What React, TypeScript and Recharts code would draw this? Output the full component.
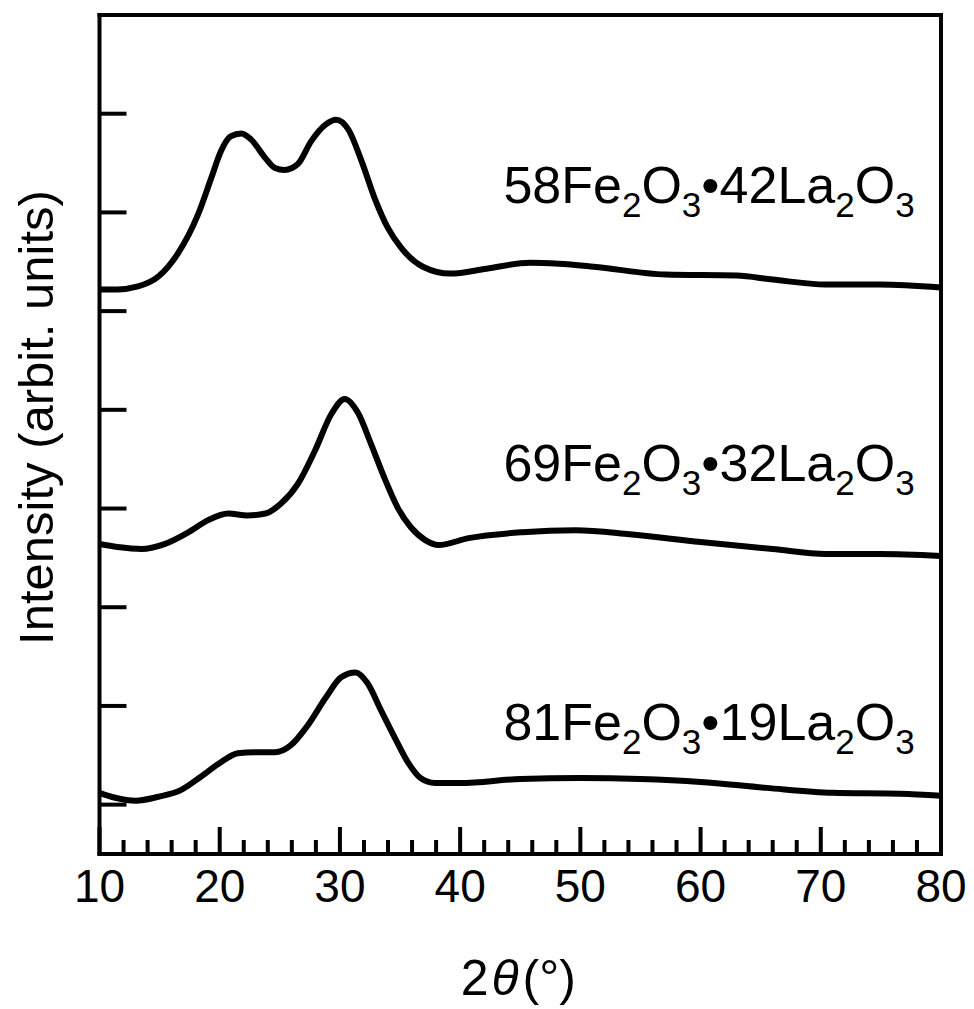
import React from 'react'
import {
  LineChart,
  Line,
  XAxis,
  YAxis,
  ReferenceDot,
} from 'recharts'

// x-ray diffraction patterns, offset vertically (arbitrary units)
const x58 = [10, 11.5, 13.2, 14.9, 16.5, 18.2, 19.3, 20.1, 20.9, 21.8, 22.6, 23.8, 24.6, 25.4, 26.5, 27.6, 28.8, 29.7, 30.7, 31.8, 32.9, 34.0, 35.1, 36.9, 39.2, 42.2, 45.8, 48.2, 51.1, 57.1, 63.0, 66.0, 70.4, 74.9, 80]
const y58 = [5.22, 5.22, 5.25, 5.35, 5.58, 5.98, 6.35, 6.62, 6.77, 6.80, 6.74, 6.55, 6.45, 6.43, 6.49, 6.72, 6.89, 6.94, 6.84, 6.52, 6.14, 5.84, 5.64, 5.45, 5.38, 5.43, 5.49, 5.48, 5.45, 5.37, 5.36, 5.32, 5.27, 5.27, 5.24]

const x69 = [10, 11.5, 13.5, 15.4, 17.4, 19.0, 20.7, 22.3, 23.8, 25.1, 26.5, 27.9, 29.3, 30.4, 31.5, 32.6, 33.7, 34.8, 35.9, 37.1, 38.2, 40.7, 45.2, 49.6, 54.1, 60.0, 66.0, 70.4, 74.9, 80]
const y69 = [2.64, 2.61, 2.59, 2.64, 2.76, 2.88, 2.95, 2.93, 2.95, 3.05, 3.25, 3.58, 3.96, 4.11, 3.97, 3.65, 3.31, 3.01, 2.81, 2.68, 2.63, 2.70, 2.76, 2.78, 2.74, 2.66, 2.59, 2.54, 2.54, 2.52]

const x81 = [10, 11.3, 13.0, 14.9, 16.8, 18.4, 20.1, 21.5, 22.9, 24.6, 25.9, 27.3, 28.8, 30.1, 31.3, 32.3, 33.4, 34.6, 35.7, 36.7, 37.9, 40, 45, 50, 55, 60, 65.5, 71, 76.6, 80]
const y81 = [0.12, 0.07, 0.04, 0.08, 0.15, 0.28, 0.43, 0.52, 0.53, 0.53, 0.60, 0.80, 1.08, 1.29, 1.34, 1.23, 0.96, 0.67, 0.42, 0.27, 0.22, 0.22, 0.26, 0.27, 0.26, 0.23, 0.17, 0.12, 0.11, 0.09]

// sample names, label anchor in data coords
const names = [
  { fe: '58', la: '42', x: 43.6, y: 6.1 },
  { fe: '69', la: '32', x: 43.6, y: 3.28 },
  { fe: '81', la: '19', x: 43.6, y: 0.65 },
]

const xTicks = [10, 12, 14, 16, 18, 20, 22, 24, 26, 28, 30, 32, 34, 36, 38, 40, 42, 44, 46, 48, 50, 52, 54, 56, 58, 60, 62, 64, 66, 68, 70, 72, 74, 76, 78, 80]
const yTicks = [0, 1, 2, 3, 4, 5, 6, 7]

const FONT = '"Liberation Sans", Arial, Helvetica, sans-serif'
const MAJOR = 27
const MINOR = 14

const toPoints = (xs: number[], ys: number[]) => xs.map((x, i) => ({ x, v: ys[i] }))

const BottomTick = ({ x, y, payload }: any) => {
  const major = payload.value % 10 === 0
  return (
    <g>
      <line x1={x} x2={x} y1={y} y2={y - (major ? MAJOR : MINOR)} stroke="#000" strokeWidth={4} />
      {major && (
        <text x={x} y={y + 48} textAnchor="middle" fontSize={46} fontFamily={FONT} fill="#000">
          {payload.value}
        </text>
      )}
    </g>
  )
}

const TopTick = ({ x, y, payload }: any) => {
  const major = payload.value % 10 === 0
  return <line x1={x} x2={x} y1={y} y2={y + (major ? MAJOR : MINOR)} stroke="#000" strokeWidth={4} />
}

const LeftTick = ({ x, y }: any) => (
  <line x1={x} x2={x + MAJOR} y1={y} y2={y} stroke="#000" strokeWidth={4} />
)

const RightTick = ({ x, y }: any) => (
  <line x1={x} x2={x - MAJOR} y1={y} y2={y} stroke="#000" strokeWidth={4} />
)

const XLabel = ({ viewBox }: any) => (
  <text
    x={viewBox.x + viewBox.width / 2 - 2}
    y={viewBox.y + 141}
    textAnchor="middle"
    fontSize={50}
    fontFamily={FONT}
    fill="#000"
  >
    <tspan>2</tspan>
    <tspan fontStyle="italic" dx={3}>θ</tspan>
    <tspan dx={4}>(°)</tspan>
  </text>
)

const YLabel = ({ viewBox }: any) => {
  const cx = viewBox.x + viewBox.width - 47
  const cy = viewBox.y + viewBox.height / 2 - 17
  return (
    <text
      x={cx}
      y={cy}
      transform={`rotate(-90 ${cx} ${cy})`}
      textAnchor="middle"
      fontSize={49}
      fontFamily={FONT}
      fill="#000"
    >
      Intensity (arbit. units)
    </text>
  )
}

const nameLabel = (fe: string, la: string) => ({ viewBox }: any) => (
  <text x={viewBox.x} y={viewBox.y} fontSize={52} fontFamily={FONT} fill="#000">
    <tspan>{fe}Fe</tspan>
    <tspan dy={14} fontSize={35}>2</tspan>
    <tspan dy={-14}>O</tspan>
    <tspan dy={14} fontSize={35}>3</tspan>
    <tspan dy={-14}>•{la}La</tspan>
    <tspan dy={14} fontSize={35}>2</tspan>
    <tspan dy={-14}>O</tspan>
    <tspan dy={14} fontSize={35}>3</tspan>
  </text>
)

const axisLine = { stroke: '#000', strokeWidth: 4, strokeLinecap: 'square' as const }

export default function App() {
  const series = [toPoints(x58, y58), toPoints(x69, y69), toPoints(x81, y81)]
  return (
    <div style={{ position: 'absolute', left: 0, top: 0, background: '#fff' }}>
      <LineChart width={974} height={1009} margin={{ top: 14, right: 32, bottom: 154, left: 98.5 }}>
        <XAxis
          xAxisId={0}
          dataKey="x"
          type="number"
          domain={[10, 80]}
          ticks={xTicks}
          interval={0}
          height={1}
          tickSize={0}
          tickMargin={0}
          tickLine={false}
          axisLine={axisLine}
          tick={BottomTick}
          allowDuplicatedCategory={false}
          label={XLabel}
        />
        <XAxis
          xAxisId="top"
          orientation="top"
          dataKey="x"
          type="number"
          domain={[10, 80]}
          ticks={xTicks}
          interval={0}
          height={1}
          tickSize={0}
          tickMargin={0}
          tickLine={false}
          axisLine={axisLine}
          tick={TopTick}
        />
        <YAxis
          yAxisId={0}
          type="number"
          domain={[-0.5, 8]}
          ticks={yTicks}
          interval={0}
          width={1}
          tickSize={0}
          tickMargin={0}
          tickLine={false}
          axisLine={axisLine}
          tick={LeftTick}
          label={YLabel}
        />
        <YAxis
          yAxisId="right"
          orientation="right"
          type="number"
          domain={[-0.5, 8]}
          ticks={yTicks}
          interval={0}
          width={1}
          tickSize={0}
          tickMargin={0}
          tickLine={false}
          axisLine={axisLine}
          tick={RightTick}
        />
        {series.map((pts, i) => (
          <Line
            key={i}
            data={pts}
            dataKey="v"
            type="monotone"
            stroke="#000"
            strokeWidth={6}
            dot={false}
            activeDot={false}
            isAnimationActive={false}
          />
        ))}
        {names.map((n) => (
          <ReferenceDot
            key={n.fe}
            x={n.x}
            y={n.y}
            r={0}
            fill="none"
            stroke="none"
            ifOverflow="visible"
            label={nameLabel(n.fe, n.la)}
          />
        ))}
      </LineChart>
    </div>
  )
}
